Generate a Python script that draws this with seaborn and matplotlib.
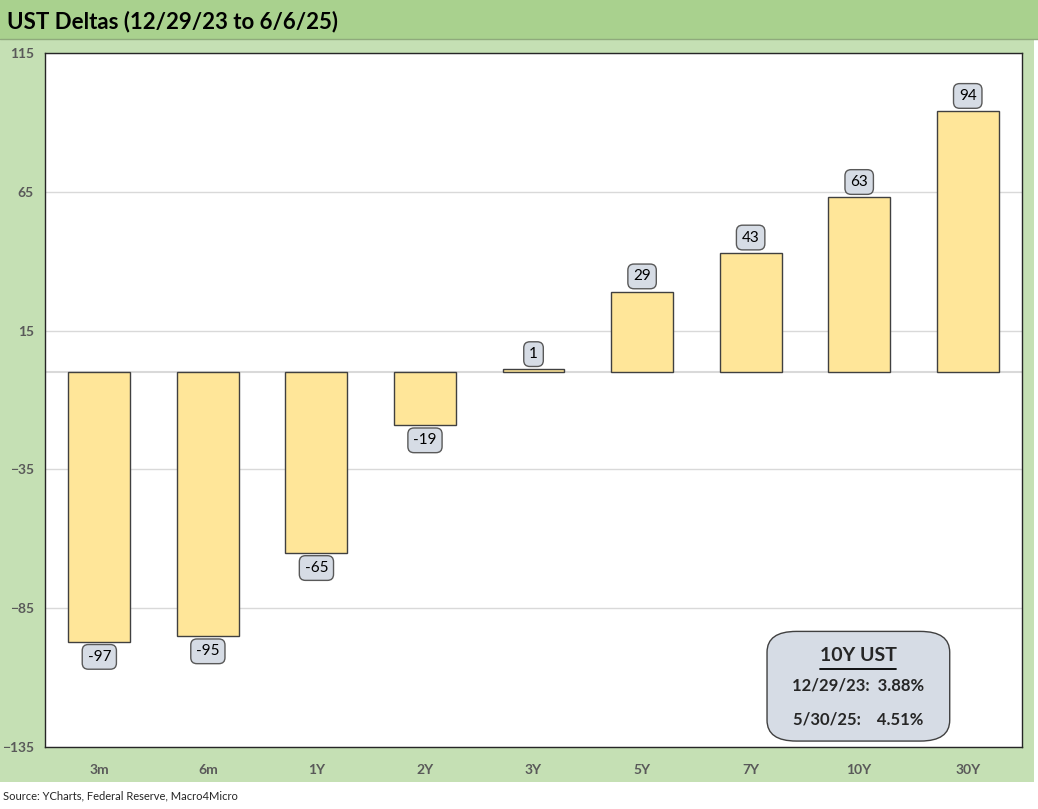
import matplotlib
matplotlib.use('Agg')
import matplotlib.pyplot as plt
import seaborn as sns
from matplotlib.patches import Rectangle, FancyBboxPatch

# chart data
tenors = ['3m', '6m', '1Y', '2Y', '3Y', '5Y', '7Y', '10Y', '30Y']
deltas = [-97, -95, -65, -19, 1, 29, 43, 63, 94]
y_ticks = [115, 65, 15, -35, -85, -135]
title = 'UST Deltas (12/29/23 to 6/6/25)'
source = 'Source: YCharts, Federal Reserve, Macro4Micro'
box_title = '10Y UST'
box_lines = ['12/29/23:  3.88%', '5/30/25:    4.51%']

sns.set_style('white')
plt.rcParams['font.family'] = ['Lato', 'DejaVu Sans']

fig = plt.figure(figsize=(10.38, 8.09), dpi=100)

# background panels
fig.patches.append(Rectangle((0, 0.0334), 0.996, 0.9184, transform=fig.transFigure,
                             facecolor='#c5e0b4', edgecolor='none', zorder=-3))
fig.patches.append(Rectangle((0, 0.9518), 1, 0.0482, transform=fig.transFigure,
                             facecolor='#a9d18e', edgecolor='none', zorder=-2))
fig.lines.append(plt.Line2D([0, 1], [0.9518, 0.9518], transform=fig.transFigure,
                            color='#8faa7c', lw=1))

ax = fig.add_axes([0.0434, 0.0766, 0.9412, 0.8579])
sns.barplot(x=tenors, y=deltas, color='#ffe699', edgecolor='#404040',
            linewidth=1, width=0.57, saturation=1, ax=ax, zorder=3)

ax.set_ylim(-135, 115)
ax.set_yticks(y_ticks)
ax.set_xlim(-0.5, len(tenors) - 0.5)
ax.grid(axis='y', color='#d9d9d9', lw=1, zorder=0)
ax.axhline(0, color='#d9d9d9', lw=1.5, zorder=1)
ax.set_xlabel('')
ax.set_ylabel('')
for s in ax.spines.values():
    s.set_color('#262626')
    s.set_linewidth(1)
ax.tick_params(axis='both', length=0, colors='#595959', labelsize=10)
ax.tick_params(axis='x', pad=12)
ax.tick_params(axis='y', pad=8)
for lab in ax.get_xticklabels() + ax.get_yticklabels():
    lab.set_fontweight('bold')

# value labels
for i, v in enumerate(deltas):
    off = 6 if v >= 0 else -6
    ax.annotate(str(v), (i, v), xytext=(0, off), textcoords='offset points',
                ha='center', va='bottom' if v >= 0 else 'top', fontsize=11,
                color='black', zorder=5,
                bbox=dict(boxstyle='round,pad=0.35,rounding_size=0.4',
                          fc='#d6dce5', ec='#595959', lw=1))

# info box
ax.add_patch(FancyBboxPatch((0.739, 0.0086), 0.187, 0.158, transform=ax.transAxes,
                            boxstyle='round,pad=0,rounding_size=0.03',
                            fc='#d6dce5', ec='#404040', lw=1, zorder=6))
ax.text(0.8325, 0.1326, box_title, transform=ax.transAxes, ha='center', va='center',
        fontsize=14, fontweight='bold', zorder=7)
ax.plot([0.7935, 0.8715], [0.1125, 0.1125], transform=ax.transAxes,
        color='black', lw=1.3, zorder=7)
ax.text(0.8325, 0.0893, box_lines[0], transform=ax.transAxes, ha='center', va='center',
        fontsize=12, fontweight='bold', zorder=7)
ax.text(0.8325, 0.0403, box_lines[1], transform=ax.transAxes, ha='center', va='center',
        fontsize=12, fontweight='bold', zorder=7)

fig.text(0.007, 0.974, title, ha='left', va='center', fontsize=16,
         fontweight='bold', color='black')
fig.text(0.003, 0.016, source, ha='left', va='center', fontsize=8, color='#262626')

fig.savefig('out.png', dpi=100)
